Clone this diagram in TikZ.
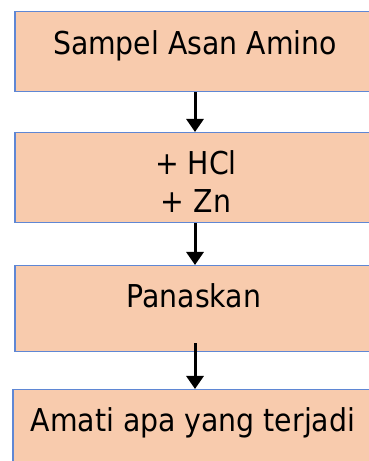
\documentclass[tikz,border=0pt]{standalone}
\usepackage{fontspec}
\setmainfont{DejaVu Sans Condensed}
\usetikzlibrary{arrows.meta,calc}
\definecolor{boxfill}{RGB}{248,203,173}
\definecolor{boxline}{RGB}{95,135,212}
\begin{document}
\begin{tikzpicture}[x=1pt,y=1pt,
  box/.style={draw=boxline,fill=boxfill,line width=1.5pt,rectangle,anchor=north west,inner sep=0pt,minimum width=370pt},
  lbl/.style={anchor=base,inner sep=0pt,font=\fontsize{31.5}{38}\selectfont},
  flow/.style={line width=3pt,-{Triangle[width=17pt,length=13pt]}}]
\useasboundingbox (0,0) rectangle (369,461);
\clip (0,0) rectangle (369,461);
\node[box,minimum height=80pt] (b1) at (14,450) {};
\node[box,minimum height=90pt] (b2) at (14,329) {};
\node[box,minimum height=86pt] (b3) at (14,196) {};
\node[box,minimum height=85pt] (b4) at (12,72) {};
\coordinate (ax) at (195,0);
\node[lbl] (t1) at (195,406) {Sampel Asan Amino};
\node[lbl] (t2a) at (196,286.7) {+ HCl};
\node[lbl] (t2b) at (196,248.3) {+ Zn};
\node[lbl] (t3) at (194,153.3) {Panaskan};
\node[lbl] (t4) at (193,29.3) {Amati apa yang terjadi};
\draw[flow] (b1.south -| ax) -- (b2.north -| ax);
\draw[flow] (b2.south -| ax) -- (b3.north -| ax);
\draw[flow] ([yshift=9pt]b3.south -| ax) -- (b4.north -| ax);
\end{tikzpicture}
\end{document}
